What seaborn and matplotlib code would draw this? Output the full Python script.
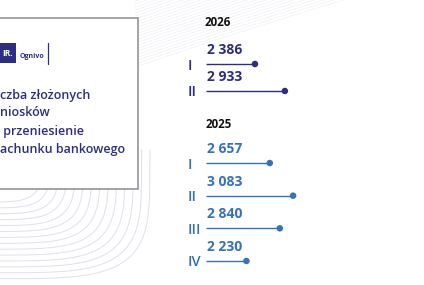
import seaborn as sns
import pandas as pd
import matplotlib.pyplot as plt
import numpy as np
from matplotlib.patches import Rectangle

# --- data ---
quarters_2026 = ['I', 'II']
values_2026 = [2386, 2933]
quarters_2025 = ['I', 'II', 'III', 'IV']
values_2025 = [2657, 3083, 2840, 2230]
title_lines = ['czba złożonych', 'niosków', ' przeniesienie', 'achunku bankowego']

NAVY = '#2d2e83'
BLUE = '#3672b9'
W, H = 424, 285

sns.set_theme(style='white')
plt.rcParams['font.family'] = ['Open Sans', 'DejaVu Sans']

fig = plt.figure(figsize=(W / 100, H / 100), dpi=100)
fig.patch.set_facecolor('white')


def px_rect(x0, y0, x1, y1):
    return [x0 / W, 1 - y1 / H, (x1 - x0) / W, (y1 - y0) / H]


# background layer in pixel coordinates
bg = fig.add_axes([0, 0, 1, 1])
bg.set_xlim(0, W)
bg.set_ylim(H, 0)
bg.axis('off')

# decorative faint lines, top right
xs = np.linspace(135, W, 100)
for k in range(24):
    ys = 62 - 0.34 * (xs - 150) + 0.0001 * (xs - 150) ** 2 - k * 3.0
    bg.plot(xs, ys, color='#efeff5', lw=0.45, zorder=0)

# decorative contours, bottom left
t = np.linspace(0, np.pi / 2, 200)
for k in range(14):
    w = 62 + k * 8.3
    h = 52 + k * 5.9
    cx = -20 + np.cos(t) ** (2 / 4.5) * w
    cy = 150 + np.sin(t) ** (2 / 4.5) * h
    bg.plot(cx, cy, color='#dedff0', lw=0.7, zorder=0)

# card
bg.add_patch(Rectangle((-5, 18), 143, 171, facecolor='white',
                       edgecolor='#8c8c8c', lw=1.1, zorder=2))
bg.add_patch(Rectangle((0, 43), 16, 20, facecolor=NAVY, edgecolor='none', zorder=3))
bg.text(7.5, 54, 'IR.', color='white', fontsize=6, fontweight='bold',
        ha='center', va='center', zorder=4)
bg.text(20, 56, 'Ognivo', color=NAVY, fontsize=5, fontweight='bold',
        ha='left', va='center', zorder=4)
bg.plot([48, 48], [43, 64], color=NAVY, lw=0.9, zorder=4)
for i, line in enumerate(title_lines):
    bg.text(0, 95 + i * 18, line, color=NAVY, fontsize=9, fontweight='semibold',
            ha='left', va='center', zorder=4)

# year headers
bg.text(205, 22, '2026', color='#111111', fontsize=8.3, fontweight='bold',
        ha='left', va='center')
bg.text(206, 125, '2025', color='#111111', fontsize=8.3, fontweight='bold',
        ha='left', va='center')

axis_start = 1491
px_per_unit = 0.0547


def lollipop(ax, quarters, values, color):
    d = pd.DataFrame({'quarter': quarters, 'value': values})
    ax.hlines(y=d['quarter'], xmin=axis_start, xmax=d['value'], color=color,
              lw=1.0, zorder=2)
    sns.scatterplot(data=d, x='value', y='quarter', ax=ax, color=color, s=22,
                    edgecolor='none', zorder=3, clip_on=False)
    for i, v in enumerate(values):
        ax.annotate(f'{v:,}'.replace(',', ' '), xy=(axis_start, i), xytext=(0.5, 10),
                    textcoords='offset points', ha='left', va='center',
                    color=color, fontsize=10, fontweight='bold')
    ax.set_xlim(axis_start, axis_start + (W - 206) / px_per_unit)
    ax.set_ylim(len(values) - 0.5, -0.5)
    ax.set(xlabel='', ylabel='', xticks=[])
    ax.patch.set_alpha(0)
    for s in ax.spines.values():
        s.set_visible(False)
    ax.tick_params(axis='y', length=0, pad=13, labelsize=10.5, labelcolor=color)
    for lbl in ax.get_yticklabels():
        lbl.set_ha('left')
        lbl.set_fontweight('semibold')


ax26 = fig.add_axes(px_rect(206, 50.5, W, 104.5))
lollipop(ax26, quarters_2026, values_2026, NAVY)

ax25 = fig.add_axes(px_rect(206, 146.7, W, 277.3))
lollipop(ax25, quarters_2025, values_2025, BLUE)

fig.savefig('out.png', dpi=100)
